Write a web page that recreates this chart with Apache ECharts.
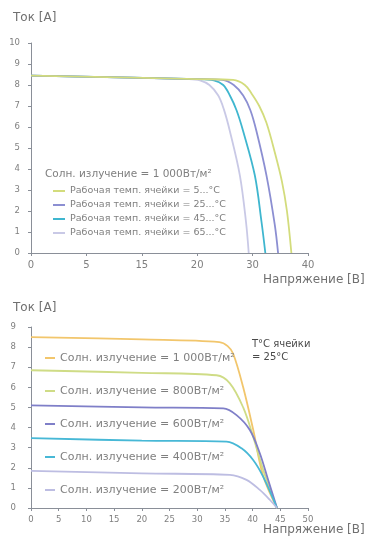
<!DOCTYPE html>
<html><head><meta charset="utf-8">
<script src="https://cdn.jsdelivr.net/npm/echarts@6/dist/echarts.min.js"></script>
<style>html,body{margin:0;padding:0;background:#fff}#c{width:366px;height:542px}</style>
</head><body><div id="c"></div>
<script>
// ---- Top chart: tick labels (x axis position index -> label)
const topXTickLabels = ['0','5','15','20','30','40'];
const topNames = ['Рабочая темп. ячейки = 5...°C','Рабочая темп. ячейки = 25...°C','Рабочая темп. ячейки = 45...°C','Рабочая темп. ячейки = 65...°C'];
// x in tick-position units (0..5), y = current [A]
const t5  = [[0,8.45],[3.0,8.28],[3.65,8.24],[3.86,8.0],[3.98,7.6],[4.12,7.0],[4.25,6.2],[4.40,4.8],[4.53,3.4],[4.62,2.0],[4.70,0]];
const t25 = [[0,8.45],[3.0,8.28],[3.45,8.24],[3.66,8.0],[3.83,7.5],[3.96,6.8],[4.07,5.8],[4.25,3.7],[4.40,1.35],[4.46,0]];
const t45 = [[0,8.45],[3.0,8.28],[3.30,8.22],[3.47,8.0],[3.59,7.5],[3.71,6.8],[3.83,5.8],[4.04,3.7],[4.16,1.5],[4.23,0]];
const t65 = [[0,8.45],[2.85,8.28],[3.05,8.22],[3.22,8.0],[3.38,7.5],[3.48,6.85],[3.59,5.8],[3.77,3.7],[3.88,1.5],[3.93,0]];
// ---- Bottom chart: x = voltage [V], y = current [A]
const botNames = ['Солн. излучение = 1 000Вт/м²','Солн. излучение = 800Вт/м²','Солн. излучение = 600Вт/м²','Солн. излучение = 400Вт/м²','Солн. излучение = 200Вт/м²'];
const b1000 = [[0,8.5],[20,8.38],[34,8.25],[35.5,8.05],[36.5,7.67],[38.3,6.0],[40.1,3.9],[41.9,1.6],[44.4,0]];
const b800  = [[0,6.85],[20,6.72],[33.5,6.6],[35.9,6.2],[38.3,5.0],[40.1,3.55],[41.9,1.9],[44.4,0]];
const b600  = [[0,5.1],[20,5.0],[34.7,4.95],[37.1,4.62],[39.5,3.88],[41.3,2.72],[42.8,1.4],[44.4,0]];
const b400  = [[0,3.47],[20,3.35],[35.3,3.3],[38.0,2.97],[40.1,2.39],[41.9,1.56],[44.4,0]];
const b200  = [[0,1.85],[20,1.72],[35.9,1.65],[38.9,1.4],[41.3,0.9],[43.1,0.41],[44.4,0]];

const topColors = ['#d3dc7c','#8c8fd2','#3fb6cf','#c9c9e6'];
const botColors = ['#f2c66c','#cfdc86','#7f7fc8','#47b8d6','#bdbde2'];

const FONT = '"DejaVu Sans", sans-serif';
const TXT = '#7f7f7f';
const axisCommon = {
  axisLine:{show:true,lineStyle:{color:'#8a8f98',width:1}},
  axisTick:{show:true,length:3,lineStyle:{color:'#8a8f98'}},
  splitLine:{show:false},
  axisLabel:{color:TXT,fontFamily:FONT,fontSize:9}
};
const topData=[t5,t25,t45,t65], botData=[b1000,b800,b600,b400,b200];
const series=[];
topData.forEach((d,i)=>series.push({name:topNames[i],type:'line',xAxisIndex:0,yAxisIndex:0,data:d,smooth:0.35,showSymbol:false,symbol:'none',lineStyle:{width:1.8,color:topColors[i]},itemStyle:{color:topColors[i]},z:10-i}));
botData.forEach((d,i)=>series.push({name:botNames[i],type:'line',xAxisIndex:1,yAxisIndex:1,data:d,smooth:0.35,showSymbol:false,symbol:'none',lineStyle:{width:1.8,color:botColors[i]},itemStyle:{color:botColors[i]}}));

const chart=echarts.init(document.getElementById('c'),null,{renderer:'canvas'});
chart.setOption({
  animation:false,
  backgroundColor:'#fff',
  grid:[{left:31,right:58,top:43,height:210},{left:31,right:58,top:327,height:181}],
  xAxis:[
    Object.assign({},axisCommon,{type:'value',gridIndex:0,min:0,max:5,interval:1,
      axisLabel:Object.assign({},axisCommon.axisLabel,{margin:7,fontSize:10,formatter:v=>topXTickLabels[Math.round(v)]})}),
    Object.assign({},axisCommon,{type:'value',gridIndex:1,min:0,max:50,interval:5,
      axisLabel:Object.assign({},axisCommon.axisLabel,{margin:7,fontSize:8.5})})
  ],
  yAxis:[
    Object.assign({},axisCommon,{type:'value',gridIndex:0,min:0,max:10,interval:1,
      axisLabel:Object.assign({},axisCommon.axisLabel,{margin:11,fontSize:8.5})}),
    Object.assign({},axisCommon,{type:'value',gridIndex:1,min:0,max:9,interval:1,
      axisLabel:Object.assign({},axisCommon.axisLabel,{margin:15,fontSize:8.5})})
  ],
  legend:[
    {data:topNames,orient:'vertical',left:53,top:186,padding:0,itemWidth:12,itemHeight:2,itemGap:4,icon:'rect',
     textStyle:{color:TXT,fontFamily:FONT,fontSize:9.5,lineHeight:10}},
    {data:botNames,orient:'vertical',left:45,top:352,padding:0,itemWidth:10,itemHeight:2,itemGap:21,icon:'rect',
     textStyle:{color:TXT,fontFamily:FONT,fontSize:11,lineHeight:12}}
  ],
  graphic:[
    {type:'text',left:13,top:12,style:{text:'Ток [А]',fill:'#707070',font:'12px '+FONT}},
    {type:'text',left:263,top:274,style:{text:'Напряжение [В]',fill:'#707070',font:'12px '+FONT}},
    {type:'text',left:13,top:302,style:{text:'Ток [А]',fill:'#707070',font:'12px '+FONT}},
    {type:'text',left:263,top:524,style:{text:'Напряжение [В]',fill:'#707070',font:'12px '+FONT}},
    {type:'text',left:45,top:169,style:{text:'Солн. излучение = 1 000Вт/м²',fill:TXT,font:'10.5px '+FONT}},
    {type:'text',left:252,top:338,style:{text:'T°C ячейки\n= 25°C',fill:'#4a4a4a',font:'10px '+FONT,lineHeight:13}}
  ],
  series:series
});
</script></body></html>
